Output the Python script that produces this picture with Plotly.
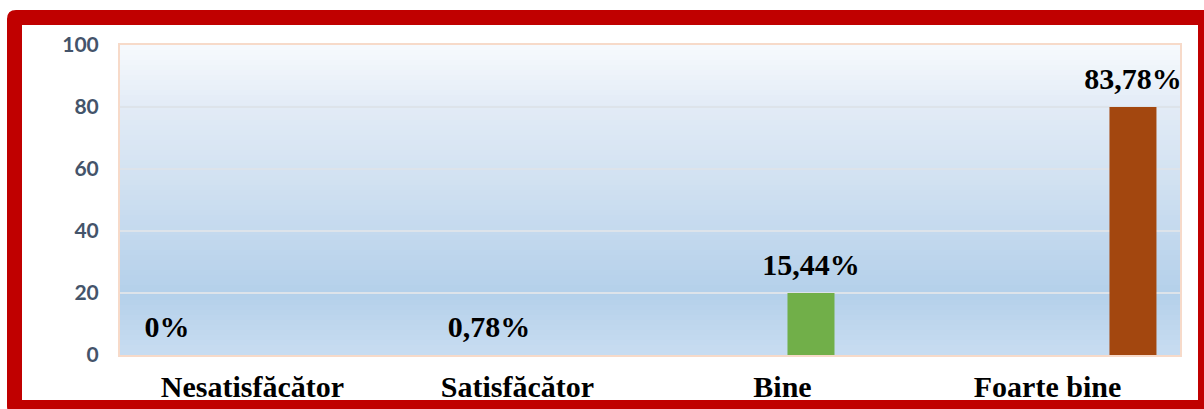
import plotly.graph_objects as go

# ---- data ----
categories = ["Nesatisfăcător", "Satisfăcător", "Bine", "Foarte bine"]
bar_heights = [0, 0, 20, 80]
value_labels = ["0%", "0,78%", "15,44%", "83,78%"]
y_ticks = [0, 20, 40, 60, 80, 100]

# ---- style ----
bar_colors = ["#4472c4", "#c0504d", "#71af49", "#a3470f"]
W, H = 1204, 409
L, R, T, B = 120, 24, 45, 54
PW, PH = W - L - R, H - T - B


def px(x):
    return (x - L) / PW


def py(y):
    return (H - B - y) / PH


fig = go.Figure()

for i, cat in enumerate(categories):
    fig.add_trace(go.Bar(
        x=[cat], y=[bar_heights[i]], name=cat,
        marker=dict(color=bar_colors[i], line=dict(width=0)),
        offsetgroup="b" + str(i), alignmentgroup="bars",
        hoverinfo="skip", showlegend=False,
    ))

for i, cat in enumerate(categories):
    fig.add_trace(go.Scatter(
        x=[cat], y=[bar_heights[i]], mode="markers+text",
        text=[value_labels[i]], textposition="top center",
        textfont=dict(family="Liberation Serif", size=30, color="black", weight="bold"),
        marker=dict(size=16, opacity=0),
        offsetgroup="s" + str(i), alignmentgroup="labels", cliponaxis=False,
        hoverinfo="skip", showlegend=False,
    ))

# gradient background bands
stops = [(0.0, (0xc8, 0xdd, 0xf1)), (0.2, (0xb4, 0xd0, 0xea)), (0.4, (0xc4, 0xd9, 0xee)),
         (0.6, (0xd4, 0xe3, 0xf2)), (0.8, (0xe2, 0xeb, 0xf6)), (1.0, (0xf7, 0xfa, 0xfd))]


def col_at(t):
    for (a, ca), (b, cb) in zip(stops[:-1], stops[1:]):
        if a <= t <= b:
            f = (t - a) / (b - a)
            c = [round(ca[k] + (cb[k] - ca[k]) * f) for k in range(3)]
            return "rgb(%d,%d,%d)" % tuple(c)
    return "rgb(246,249,253)"


shapes = []
# red frame (outer rounded rect minus inner rect)
ox0, oy0, ox1, oy1, r = 7, 10, 1213, 415, 9
ix0, iy0, ix1, iy1 = 22, 25, 1198, 400
p = (f"M{px(ox0)},{py(oy0 + r)} Q{px(ox0)},{py(oy0)} {px(ox0 + r)},{py(oy0)} "
     f"L{px(ox1 - r)},{py(oy0)} Q{px(ox1)},{py(oy0)} {px(ox1)},{py(oy0 + r)} "
     f"L{px(ox1)},{py(oy1 - r)} Q{px(ox1)},{py(oy1)} {px(ox1 - r)},{py(oy1)} "
     f"L{px(ox0 + r)},{py(oy1)} Q{px(ox0)},{py(oy1)} {px(ox0)},{py(oy1 - r)} Z "
     f"M{px(ix0)},{py(iy0)} L{px(ix1)},{py(iy0)} L{px(ix1)},{py(iy1)} L{px(ix0)},{py(iy1)} Z")
shapes.append(dict(type="path", path=p, xref="paper", yref="paper",
                   fillcolor="#c00000", line=dict(width=0), fillrule="evenodd", layer="below"))

N = 62
for k in range(N):
    y0 = k / N
    y1 = (k + 1) / N
    shapes.append(dict(type="rect", xref="paper", yref="paper", x0=0, x1=1, y0=y0, y1=y1 + 0.002,
                       fillcolor=col_at((y0 + y1) / 2), line=dict(width=0), layer="below"))

fig.update_layout(
    width=W, height=H,
    margin=dict(l=L, r=R, t=T, b=B, pad=0, autoexpand=False),
    paper_bgcolor="white", plot_bgcolor="#d0e1f2",
    barmode="group", bargap=0.14, bargroupgap=0.175,
    scattermode="group", scattergap=0.14,
    shapes=shapes, showlegend=False,
)
fig.update_xaxes(
    type="category", categoryorder="array", categoryarray=categories,
    showgrid=False, ticks="", showline=True, mirror=True, linecolor="#f7dac9", linewidth=2,
    tickfont=dict(family="Liberation Serif", size=30, color="black", weight="bold"),
    ticklabelstandoff=4, automargin=False,
)
fig.update_yaxes(
    range=[0, 100], tickvals=y_ticks, showgrid=True, gridcolor="#dde3ea", gridwidth=2,
    zeroline=False, ticks="", showline=True, mirror=True, linecolor="#f7dac9", linewidth=2,
    tickfont=dict(family="Lato", size=21, color="#44546a", weight="bold"),
    ticklabelstandoff=15, automargin=False,
)

fig.write_html("out.html", config={"displayModeBar": False},
               post_script="document.body.style.margin='0';document.body.style.overflow='hidden';")
